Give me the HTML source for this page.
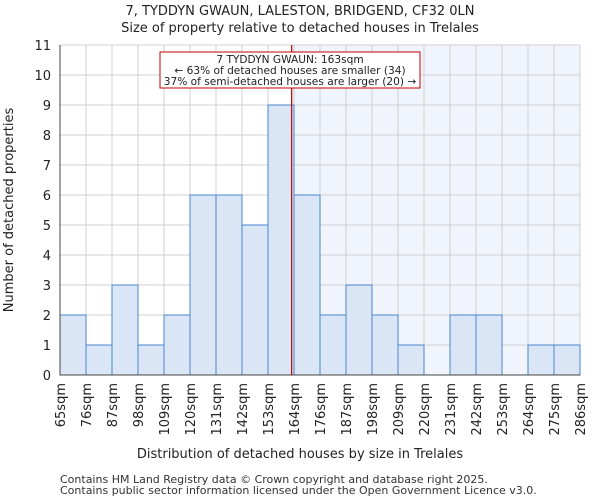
<!DOCTYPE html>
<html><head><meta charset="utf-8"><style>body{margin:0;background:#fff}svg{display:block;font-family:"DejaVu Sans","Liberation Sans",sans-serif}</style></head>
<body>
<svg id="c" width="600" height="500"></svg>
<script>
const binLabels=["65sqm","76sqm","87sqm","98sqm","109sqm","120sqm","131sqm","142sqm","153sqm","164sqm","176sqm","187sqm","198sqm","209sqm","220sqm","231sqm","242sqm","253sqm","264sqm","275sqm","286sqm"];
const counts=[2,1,3,1,2,6,6,5,9,6,2,3,2,1,0,2,2,0,1,1];
const yTicks=[0,1,2,3,4,5,6,7,8,9,10,11];
const markerBin=8.91;
const NS="http://www.w3.org/2000/svg",svg=document.getElementById('c');
const L=60,R=580,T=45,B=375,yMax=11;
const bw=(R-L)/counts.length;
const xs=i=>L+i*bw, ys=v=>B-(B-T)*v/yMax;
function mk(t,a,txt){const e=document.createElementNS(NS,t);for(const k in a)e.setAttribute(k,a[k]);if(txt!=null)e.textContent=txt;svg.appendChild(e);return e;}
const mx=xs(markerBin);
let e=mk('rect',{x:mx,y:T,width:R-mx,height:B-T,fill:'#f0f4fc'});

yTicks.forEach(v=>{e=mk('line',{x1:L,x2:R,y1:ys(v),y2:ys(v),stroke:'#d0d0d0'});
e=mk('text',{x:L-9,y:ys(v)+5,'text-anchor':'end','font-size':13,fill:'#222'},v);});
binLabels.forEach((s,i)=>{e=mk('line',{x1:xs(i),x2:xs(i),y1:T,y2:B,stroke:'#d0d0d0'});
e=mk('text',{transform:`translate(${xs(i)+5},${B+8}) rotate(-90)`,'text-anchor':'end','font-size':13,fill:'#222'},s);});
counts.forEach((v,i)=>{if(v<=0)return;e=mk('rect',{x:xs(i),y:ys(v),width:bw,height:B-ys(v),fill:'#dae5f5',stroke:'#4a86d0','stroke-width':1});});
e=mk('line',{x1:L,x2:L,y1:T,y2:B,stroke:'#444'});
e=mk('line',{x1:L,x2:R,y1:B,y2:B,stroke:'#444'});
e=mk('line',{x1:mx,x2:mx,y1:T,y2:B,stroke:'#c00000','stroke-width':1.2});
e=mk('rect',{x:160,y:52,width:260,height:36,fill:'#fff',stroke:'#c00000'});
[["7 TYDDYN GWAUN: 163sqm",63],["← 63% of detached houses are smaller (34)",74],["37% of semi-detached houses are larger (20) →",85]].forEach(([t,y])=>{e=mk('text',{x:290,y:y,'text-anchor':'middle','font-size':10.6,fill:'#222'},t);});
e=mk('text',{x:300,y:15,'text-anchor':'middle','font-size':13,fill:'#222'},"7, TYDDYN GWAUN, LALESTON, BRIDGEND, CF32 0LN");
e=mk('text',{x:300,y:32,'text-anchor':'middle','font-size':13,fill:'#222'},"Size of property relative to detached houses in Trelales");
e=mk('text',{x:300,y:458,'text-anchor':'middle','font-size':13,fill:'#222'},"Distribution of detached houses by size in Trelales");
e=mk('text',{transform:'translate(13,210) rotate(-90)','text-anchor':'middle','font-size':13,fill:'#222'},"Number of detached properties");
e=mk('text',{x:60,y:483,'font-size':11,fill:'#333'},"Contains HM Land Registry data © Crown copyright and database right 2025.");
e=mk('text',{x:60,y:494,'font-size':11,fill:'#333'},"Contains public sector information licensed under the Open Government Licence v3.0.");
</script>
</body></html>
